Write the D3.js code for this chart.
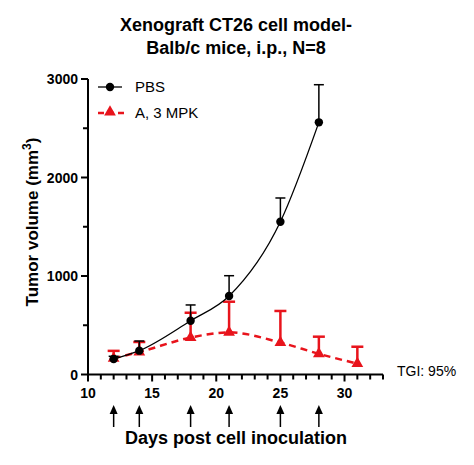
<!DOCTYPE html>
<html><head><meta charset="utf-8">
<script src="https://cdn.jsdelivr.net/npm/d3@7"></script>
<style>body{margin:0;background:#fff}svg{display:block;font-family:"Liberation Sans",Arial,sans-serif}</style>
</head><body><svg id="c" width="474" height="465"></svg>
<script>
const days = [12, 14, 18, 21, 25, 28];
const pbsMean = [157, 242, 546, 797, 1551, 2560];
const pbsErr  = [185, 340, 706, 1003, 1792, 2942];
const aDays = [12, 14, 18, 21, 25, 28, 31];
const aMean = [165, 228, 375, 428, 325, 210, 110];
const aErr  = [240, 330, 627, 739, 645, 384, 282];
const doseDays = [12, 14, 18, 21, 25, 28];
const xTicks = [10, 15, 20, 25, 30];
const yTicks = [0, 1000, 2000, 3000];

const svg = d3.select("#c");
const x = d3.scaleLinear().domain([10, 33]).range([88, 383]);
const y = d3.scaleLinear().domain([0, 3000]).range([374.5, 79]);

// title
svg.append("text").attr("x", 236).attr("y", 31).attr("text-anchor", "middle")
  .attr("font-size", 18).attr("font-weight", "bold").text("Xenograft CT26 cell model-");
svg.append("text").attr("x", 236).attr("y", 54).attr("text-anchor", "middle")
  .attr("font-size", 18).attr("font-weight", "bold").text("Balb/c mice, i.p., N=8");

// axes
const ax = svg.append("g").attr("stroke", "#000").attr("stroke-width", 2);
ax.append("line").attr("x1", x(10)).attr("x2", x(33)).attr("y1", y(0)).attr("y2", y(0));
ax.append("line").attr("x1", x(10)).attr("x2", x(10)).attr("y1", y(0)).attr("y2", y(3000));
d3.range(10, 34).forEach(d => {
  const major = d % 5 === 0;
  ax.append("line").attr("x1", x(d)).attr("x2", x(d)).attr("y1", y(0)).attr("y2", y(0) + (major ? 7 : 5));
});
d3.range(0, 3001, 500).forEach(v => {
  const major = v % 1000 === 0;
  ax.append("line").attr("x1", x(10)).attr("x2", x(10) - (major ? 7 : 5)).attr("y1", y(v)).attr("y2", y(v));
});
svg.selectAll(".xt").data(xTicks).enter().append("text")
  .attr("x", d => x(d)).attr("y", y(0) + 23).attr("text-anchor", "middle")
  .attr("font-size", 14).attr("font-weight", "bold").text(d => d);
svg.selectAll(".yt").data(yTicks).enter().append("text")
  .attr("x", x(10) - 10).attr("y", d => y(d) + 5).attr("text-anchor", "end")
  .attr("font-size", 14).attr("font-weight", "bold").text(d => d);

// y label
const yl = svg.append("text").attr("transform", "translate(38,222) rotate(-90)")
  .attr("text-anchor", "middle").attr("font-size", 17).attr("font-weight", "bold");
yl.append("tspan").text("Tumor volume (mm");
yl.append("tspan").attr("dy", -7).attr("font-size", 12).text("3");
yl.append("tspan").attr("dy", 7).text(")");

// x label
svg.append("text").attr("x", 236).attr("y", 444).attr("text-anchor", "middle")
  .attr("font-size", 18).attr("font-weight", "bold").text("Days post cell inoculation");

// dosing arrows
doseDays.forEach(d => {
  svg.append("line").attr("x1", x(d)).attr("x2", x(d)).attr("y1", 412).attr("y2", 427)
    .attr("stroke", "#000").attr("stroke-width", 1.5);
  svg.append("path").attr("d", `M${x(d)},405 L${x(d) - 4},414 L${x(d) + 4},414 Z`).attr("fill", "#000");
});

// red series
const red = "#e8141c";
const rg = svg.append("g");
aDays.forEach((d, i) => {
  rg.append("line").attr("x1", x(d)).attr("x2", x(d)).attr("y1", y(aMean[i])).attr("y2", y(aErr[i]))
    .attr("stroke", red).attr("stroke-width", 2.5);
  rg.append("line").attr("x1", x(d) - 6).attr("x2", x(d) + 6).attr("y1", y(aErr[i])).attr("y2", y(aErr[i]))
    .attr("stroke", red).attr("stroke-width", 2.5);
});
const line = d3.line().curve(d3.curveMonotoneX);
rg.append("path").attr("d", line(aDays.map((d, i) => [x(d), y(aMean[i])])))
  .attr("fill", "none").attr("stroke", red).attr("stroke-width", 2.5).attr("stroke-dasharray", "7,5");
const tri = d3.symbol().type(d3.symbolTriangle).size(60);
aDays.forEach((d, i) => {
  rg.append("path").attr("d", tri()).attr("transform", `translate(${x(d)},${y(aMean[i])})`).attr("fill", red);
});

// black series
const bg = svg.append("g");
days.forEach((d, i) => {
  bg.append("line").attr("x1", x(d)).attr("x2", x(d)).attr("y1", y(pbsMean[i])).attr("y2", y(pbsErr[i]))
    .attr("stroke", "#000").attr("stroke-width", 1.5);
  bg.append("line").attr("x1", x(d) - 5).attr("x2", x(d) + 5).attr("y1", y(pbsErr[i])).attr("y2", y(pbsErr[i]))
    .attr("stroke", "#000").attr("stroke-width", 1.5);
});
bg.append("path").attr("d", line(days.map((d, i) => [x(d), y(pbsMean[i])])))
  .attr("fill", "none").attr("stroke", "#000").attr("stroke-width", 1.3);
days.forEach((d, i) => {
  bg.append("circle").attr("cx", x(d)).attr("cy", y(pbsMean[i])).attr("r", 4.2).attr("fill", "#000");
});

// legend
svg.append("line").attr("x1", 98).attr("x2", 122).attr("y1", 87).attr("y2", 87).attr("stroke", "#000").attr("stroke-width", 1.3);
svg.append("circle").attr("cx", 110).attr("cy", 87).attr("r", 4.2).attr("fill", "#000");
svg.append("text").attr("x", 135).attr("y", 92).attr("font-size", 15).text("PBS");
svg.append("line").attr("x1", 98).attr("x2", 124).attr("y1", 113).attr("y2", 113).attr("stroke", red)
  .attr("stroke-width", 2.5).attr("stroke-dasharray", "6,4");
svg.append("path").attr("d", tri()).attr("transform", "translate(110,112)").attr("fill", red);
svg.append("text").attr("x", 135).attr("y", 118).attr("font-size", 15).text("A, 3 MPK");

// TGI
svg.append("text").attr("x", 397).attr("y", 376).attr("font-size", 14).text("TGI: 95%");
</script></body></html>
